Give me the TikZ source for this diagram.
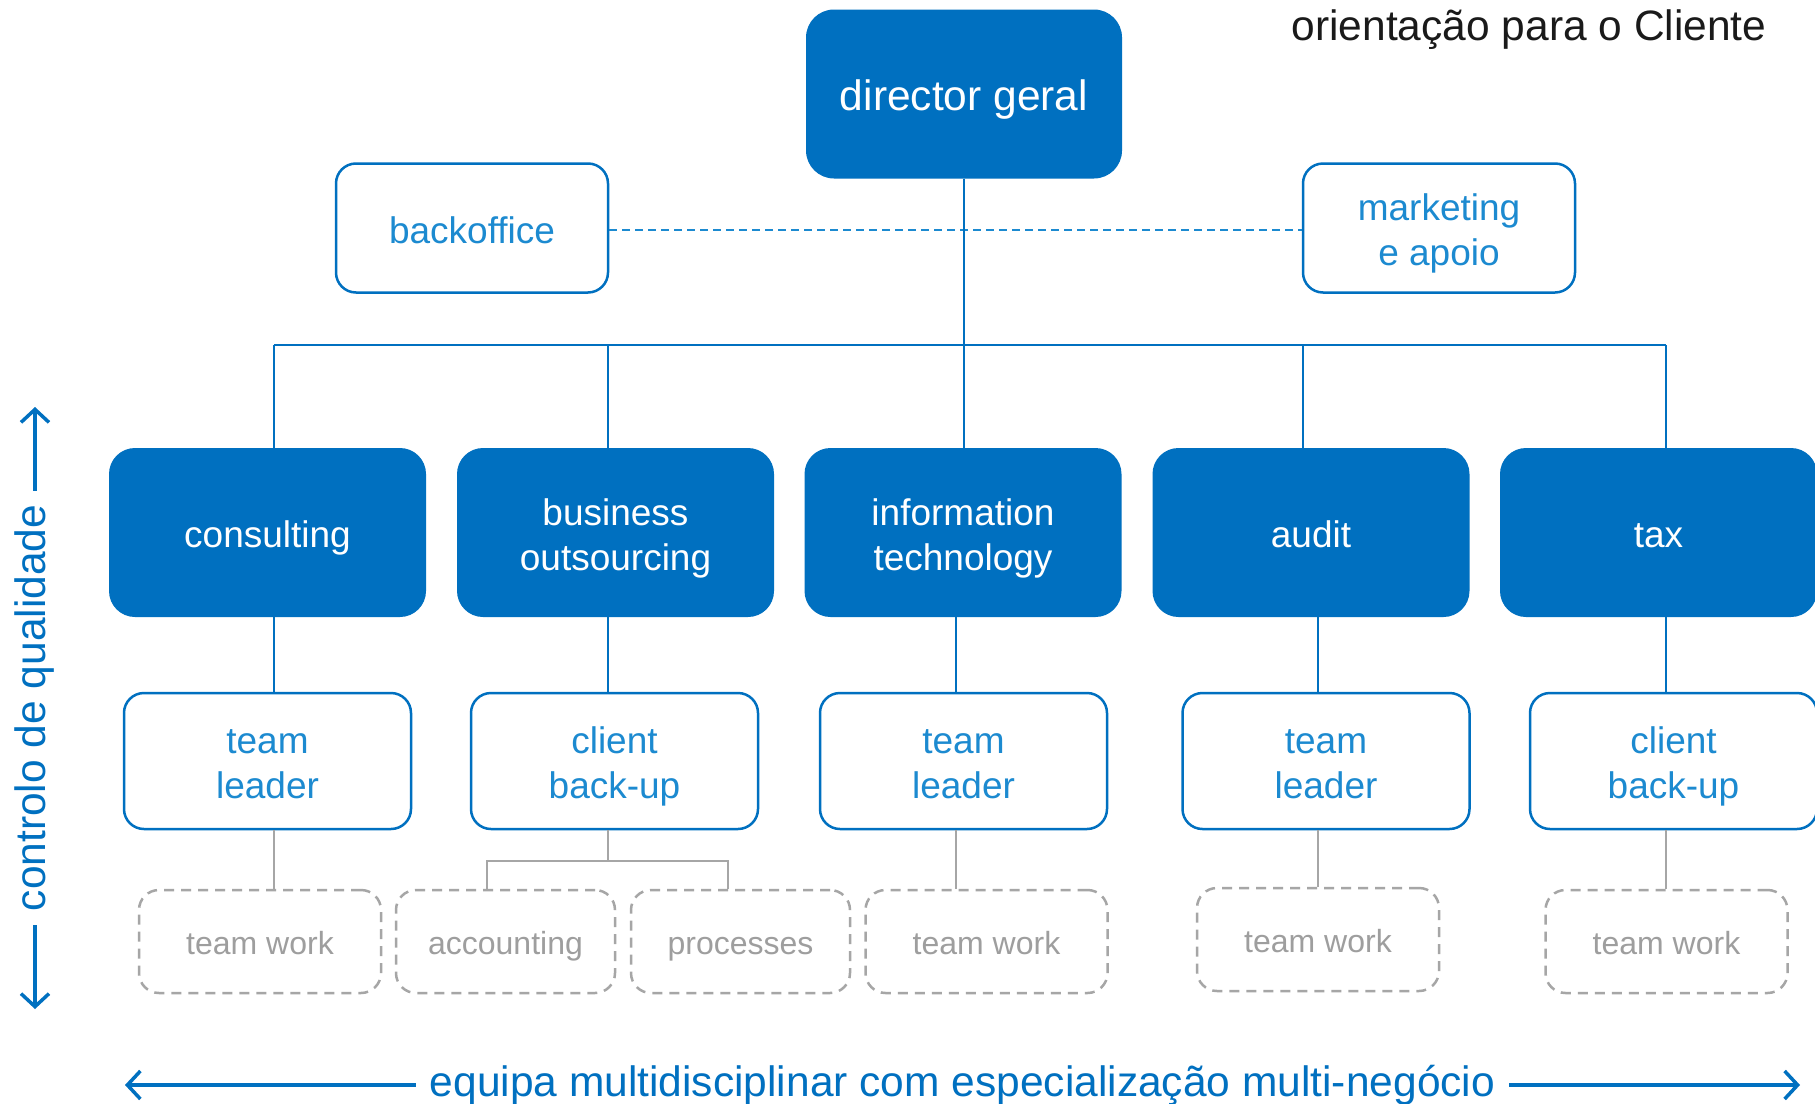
\documentclass[tikz,border=0pt]{standalone}
\usepackage{fontspec}
\setmainfont{Liberation Sans}
\usetikzlibrary{arrows.meta}

\definecolor{orgcolor0000}{RGB}{0,112,192}
\definecolor{orgcolor0001}{RGB}{28,138,208}
\definecolor{orgcolor0002}{RGB}{166,166,166}
\definecolor{orgcolor0003}{RGB}{158,158,158}
\definecolor{orgcolor0004}{RGB}{26,26,26}

% box text: rows on struts, dropped a little below the middle
\newcommand{\olbl}[2][6pt]{\raisebox{-#1}[\height][\depth]{\begin{tabular}{@{}c@{}}#2\end{tabular}}}

\begin{document}
\begin{tikzpicture}[yscale=-1
                ,ostyle1/.style={rectangle,rounded corners=26pt,fill=orgcolor0000,draw=none,text=white,minimum width=317pt,minimum height=169pt,font=\fontsize{37}{45}\selectfont}
                ,ostyle2/.style={rectangle,rounded corners=20pt,draw=orgcolor0000,line width=2.5pt,fill=white,text=orgcolor0001,minimum width=287pt,minimum height=136pt,font=\fontsize{37}{45}\selectfont}
                ,ostyle3/.style={rectangle,rounded corners=20pt,draw=orgcolor0002,line width=2.5pt,dash pattern=on 10pt off 7pt,fill=white,text=orgcolor0003,minimum width=242pt,minimum height=103pt,font=\fontsize{32}{38}\selectfont}
                ,ostyle4/.style={color=orgcolor0000,line width=2pt}
                ,ostyle5/.style={color=orgcolor0002,line width=2pt}
                ,ostyle6/.style={color=orgcolor0001,line width=2pt,dash pattern=on 8pt off 5pt}
                ,ostyle7/.style={color=orgcolor0000,line width=3.5pt,{Straight Barb[length=13pt,width=28pt,line width=3.5pt]}-{Straight Barb[length=13pt,width=28pt,line width=3.5pt]}}
                ,ostyle8/.style={fill=white,inner sep=14pt,text=orgcolor0000,font=\fontsize{42.5}{48}\selectfont}
            ]
            \fill[white] (0pt,0pt) rectangle (1815pt,1103pt);
            \useasboundingbox (0pt,0pt) rectangle (1815pt,1103pt);
            % top of the chart
            \node[ostyle1,minimum width=316pt,rounded corners=28pt,font=\fontsize{42.5}{48}\selectfont] (dg) at (964pt,94pt) {\olbl[7pt]{director geral}};
            \node at (1529pt,29.5pt)[color=orgcolor0004,font=\fontsize{42.5}{48}\selectfont]{orientação para o Cliente};
            \node[ostyle2,minimum width=272pt,minimum height=129pt] (back) at (472pt,228pt) {\olbl{backoffice}};
            \node[ostyle2,minimum width=272pt,minimum height=129pt] (mkt) at (1439pt,228pt) {\olbl{marketing\\e apoio}};
            \draw[ostyle6] ([yshift=2pt]back.east) -- ([yshift=2pt]mkt.west);
            % business units
            \node[ostyle1] (cons) at (267.5pt,532.5pt) {\olbl{consulting}};
            \node[ostyle1] (bout) at (615.5pt,532.5pt) {\olbl{business\\outsourcing}};
            \node[ostyle1] (info) at (963pt,532.5pt) {\olbl{information\\technology}};
            \node[ostyle1] (aud) at (1311pt,532.5pt) {\olbl{audit}};
            \node[ostyle1] (tax) at (1658.5pt,532.5pt) {\olbl{tax}};
            \coordinate (b1) at (274pt,345pt);
            \coordinate (b2) at (608pt,345pt);
            \coordinate (b4) at (1303pt,345pt);
            \coordinate (b5) at (1666pt,345pt);
            \draw[ostyle4] (dg.south) -- (dg.south |- info.north);
            \draw[ostyle4] (b1) -- (b5);
            \draw[ostyle4] (b1) -- (b1 |- cons.north);
            \draw[ostyle4] (b2) -- (b2 |- bout.north);
            \draw[ostyle4] (b4) -- (b4 |- aud.north);
            \draw[ostyle4] (b5) -- (b5 |- tax.north);
            % leaders
            \node[ostyle2] (tl1) at (267.5pt,761pt) {\olbl{team\\leader}};
            \node[ostyle2] (cb1) at (614.5pt,761pt) {\olbl{client\\back-up}};
            \node[ostyle2] (tl2) at (963.5pt,761pt) {\olbl{team\\leader}};
            \node[ostyle2] (tl3) at (1326pt,761pt) {\olbl{team\\leader}};
            \node[ostyle2] (cb2) at (1673.5pt,761pt) {\olbl{client\\back-up}};
            \draw[ostyle4] ([xshift=6.5pt]cons.south) -- ([xshift=6.5pt]cons.south |- tl1.north);
            \draw[ostyle4] ([xshift=-7.5pt]bout.south) -- ([xshift=-7.5pt]bout.south |- cb1.north);
            \draw[ostyle4] ([xshift=-7pt]info.south) -- ([xshift=-7pt]info.south |- tl2.north);
            \draw[ostyle4] ([xshift=7pt]aud.south) -- ([xshift=7pt]aud.south |- tl3.north);
            \draw[ostyle4] ([xshift=7.5pt]tax.south) -- ([xshift=7.5pt]tax.south |- cb2.north);
            % team work
            \node[ostyle3] (tw1) at (260pt,941.5pt) {\olbl[5.5pt]{team work}};
            \node[ostyle3,minimum width=219pt] (acc) at (505.5pt,941.5pt) {\olbl[5.5pt]{accounting}};
            \node[ostyle3,minimum width=219pt] (proc) at (740.5pt,941.5pt) {\olbl[5.5pt]{processes}};
            \node[ostyle3] (tw2) at (986.5pt,941.5pt) {\olbl[5.5pt]{team work}};
            \node[ostyle3] (tw3) at (1318pt,939.5pt) {\olbl[5.5pt]{team work}};
            \node[ostyle3] (tw4) at (1666.5pt,941.5pt) {\olbl[5.5pt]{team work}};
            \draw[ostyle5] ([xshift=6.5pt]tl1.south) -- ([xshift=6.5pt]tl1.south |- tw1.north);
            \draw[ostyle5] ([xshift=-6.5pt]cb1.south) -- ++(0pt,31pt) coordinate (fork);
            \draw[ostyle5] ([xshift=-18.5pt]acc.north) |- (fork) -| ([xshift=-12.5pt]proc.north);
            \draw[ostyle5] ([xshift=-7.5pt]tl2.south) -- ([xshift=-7.5pt]tl2.south |- tw2.north);
            \draw[ostyle5] ([xshift=-8pt]tl3.south) -- ([xshift=-8pt]tl3.south |- tw3.north);
            \draw[ostyle5] ([xshift=-7.5pt]cb2.south) -- ([xshift=-7.5pt]cb2.south |- tw4.north);
            % axes
            \coordinate (qtop) at (35pt,407pt);
            \coordinate (qbot) at (35pt,1009pt);
            \draw[ostyle7] (qbot) -- node[ostyle8,rotate=90]{controlo de qualidade} (qtop);
            \coordinate (eleft) at (125pt,1085pt);
            \coordinate (eright) at (1800pt,1085pt);
            \draw[ostyle7] (eleft) -- node[ostyle8]{equipa multidisciplinar com especialização multi-negócio} (eright);
        \end{tikzpicture}
\end{document}
